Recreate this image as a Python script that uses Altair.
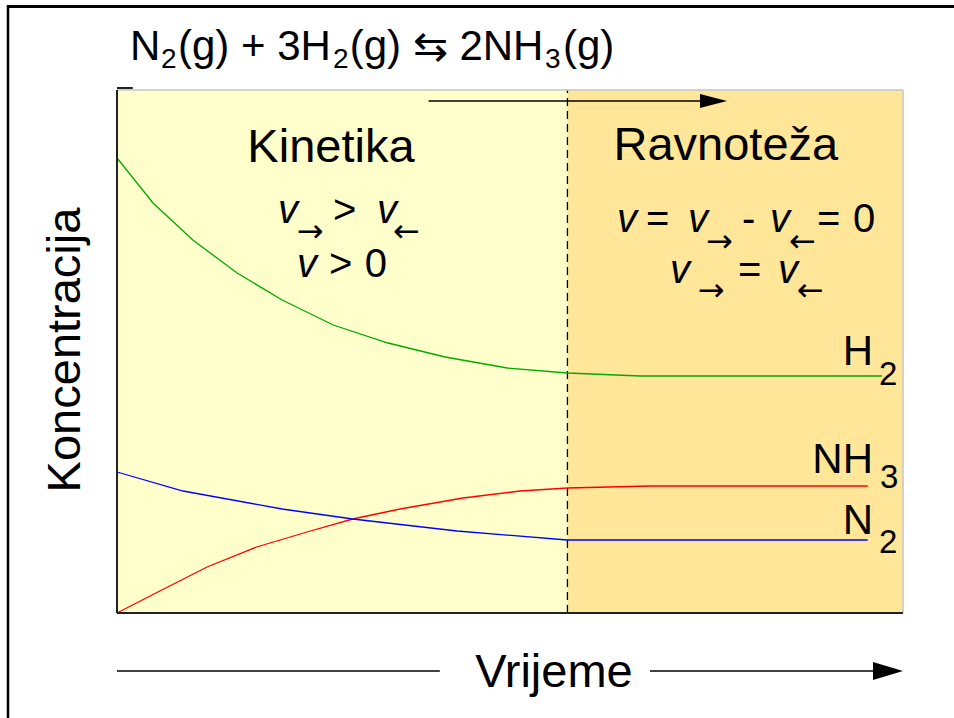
import altair as alt
import pandas as pd

# ---------------- data (time in arbitrary units, concentration in arbitrary units)
time_h2 = [0, 0.48, 1.01, 1.60, 2.20, 2.88, 3.61, 4.37, 5.20, 6.0, 6.97, 10.19]
conc_h2 = [4.55, 4.10, 3.73, 3.40, 3.13, 2.88, 2.70, 2.56, 2.45, 2.40, 2.37, 2.37]

time_nh3 = [0, 0.57, 1.20, 1.86, 2.53, 3.14, 3.77, 4.61, 5.37, 6.0, 7.1, 10.0]
conc_nh3 = [0, 0.22, 0.46, 0.66, 0.81, 0.94, 1.04, 1.15, 1.22, 1.25, 1.27, 1.27]

time_n2 = [0, 0.88, 2.20, 3.14, 4.53, 6.0, 10.0]
conc_n2 = [1.41, 1.22, 1.04, 0.94, 0.82, 0.73, 0.73]

equilibrium_time = 6.0
x_domain = [0, 10.47]
y_domain = [0, 5.23]

FONT = "Liberation Sans, Arial, Helvetica, sans-serif"
ARROW_FONT = "DejaVu Sans, Liberation Sans, sans-serif"
xs = alt.Scale(domain=x_domain, nice=False, zero=False)
ys = alt.Scale(domain=y_domain, nice=False, zero=False)


def X(f="x"):
    return alt.X(f"{f}:Q", scale=xs, axis=None)


def Y(f="y"):
    return alt.Y(f"{f}:Q", scale=ys, axis=None)


# ---------------- background regions
def region(x0, x1, fill):
    df = pd.DataFrame({"x": [x0], "x2": [x1], "y": [y_domain[0]], "y2": [y_domain[1]]})
    return alt.Chart(df).mark_rect(fill=fill, strokeWidth=0).encode(
        x=X(), x2="x2:Q", y=Y(), y2="y2:Q")


bg_kin = region(x_domain[0], equilibrium_time, "#FFFFCC")
bg_eq = region(equilibrium_time, x_domain[1], "#FFE699")

# ---------------- rules
def rule(rows, color="black", width=1.0, dash=None):
    df = pd.DataFrame(rows, columns=["x", "x2", "y", "y2"])
    kw = dict(color=color, strokeWidth=width)
    if dash:
        kw["strokeDash"] = dash
    return alt.Chart(df).mark_rule(**kw).encode(x=X(), x2="x2:Q", y=Y(), y2="y2:Q")


divider = rule([[equilibrium_time, equilibrium_time, y_domain[0], y_domain[1]]],
               width=1.3, dash=[8, 5])
frame_gray = rule([[x_domain[0], x_domain[1], y_domain[1], y_domain[1]],
                   [x_domain[1], x_domain[1], y_domain[0], y_domain[1]]],
                  color="#C4C4C4", width=1.5)
frame_dark = rule([[x_domain[0], x_domain[0], y_domain[0], y_domain[1]],
                   [x_domain[0], x_domain[1], y_domain[0], y_domain[0]],
                   [0, 0.21, 5.25, 5.25]],
                  color="#222222", width=2)
outer = rule([[-1.465, 11.3, 6.065, 6.065]], color="black", width=3)
outer_left = rule([[-1.452, -1.452, -1.2, 6.08]], color="black", width=2.5)

arrow_lines = rule([[4.15, 7.80, 5.12, 5.12],
                    [0.0, 4.30, -0.58, -0.58],
                    [7.10, 10.10, -0.58, -0.58]], color="black", width=1.5)

def head(x, y, size, path):
    df = pd.DataFrame({"x": [x], "y": [y]})
    return alt.Chart(df).mark_point(shape=path, filled=True, size=size, color="black",
                                    opacity=1, strokeWidth=0).encode(x=X(), y=Y())

head_top = head(7.946, 5.12, 729, "M-1,-0.52L1,0L-1,0.52Z")
head_bot = head(10.27, -0.58, 900, "M-1,-0.6L1,0L-1,0.6Z")

# ---------------- concentration lines
def series(t, c, color):
    df = pd.DataFrame({"x": t, "y": c})
    return alt.Chart(df).mark_line(color=color, strokeWidth=1.3).encode(
        x=X(), y=Y(), order="x:Q")

line_h2 = series(time_h2, conc_h2, "#00AA00")
line_nh3 = series(time_nh3, conc_nh3, "#FF0000")
line_n2 = series(time_n2, conc_n2, "#0000FF")

# ---------------- texts
def txt(rows, size, align="left", italic=False, angle=0, font=FONT):
    df = pd.DataFrame(rows, columns=["x", "y", "text"])
    kw = dict(font=font, fontSize=size, align=align, baseline="alphabetic",
              color="black", angle=angle)
    if italic:
        kw["fontStyle"] = "italic"
    return alt.Chart(df).mark_text(**kw).encode(x=X(), y=Y(), text="text:N")


# reaction equation
title_main = txt([[0.173, 5.53, "N"], [0.812, 5.53, "(g) + 3H"],
                  [3.10, 5.53, "(g) ⇆ 2NH"], [5.94, 5.53, "(g)"]], 42)
title_sub = txt([[0.586, 5.45, "2"], [2.876, 5.45, "2"], [5.70, 5.45, "3"]], 28)

# region headings
headings = txt([[2.85, 4.51, "Kinetika"], [8.11, 4.53, "Ravnoteža"]], 47, align="center")

# rate expressions (italic v)
v_it = txt([[2.145, 3.90, "v"], [3.463, 3.90, "v"], [2.398, 3.36, "v"],
            [6.66, 3.81, "v"], [7.606, 3.81, "v"], [8.699, 3.81, "v"],
            [7.366, 3.30, "v"], [8.805, 3.30, "v"]], 40, italic=True)
ops = txt([[2.877, 3.90, ">"], [2.824, 3.36, ">"], [3.30, 3.36, "0"],
           [7.047, 3.81, "="], [8.326, 3.81, "-"], [9.325, 3.81, "="], [9.804, 3.81, "0"],
           [8.272, 3.30, "="]], 40)
arrows_sub = txt([[2.395, 3.71, "→"], [3.675, 3.71, "←"],
                  [7.845, 3.61, "→"], [8.95, 3.61, "←"],
                  [7.735, 3.12, "→"], [9.055, 3.12, "←"]], 32, font=ARROW_FONT)

# species labels
sp_main = txt([[10.07, 2.48, "H"], [10.07, 1.40, "NH"], [10.07, 0.79, "N"]], 42, align="right")
sp_sub = txt([[10.15, 2.28, "2"], [10.165, 1.25, "3"], [10.15, 0.60, "2"]], 33)

# axis titles
ytitle = txt([[-0.493, 2.63, "Koncentracija"]], 47, align="center", angle=270)
xtitle = txt([[5.82, -0.74, "Vrijeme"]], 47, align="center")

chart = alt.layer(
    bg_kin, bg_eq, divider, line_h2, line_nh3, line_n2,
    frame_gray, frame_dark, outer, outer_left, arrow_lines, head_top, head_bot,
    title_main, title_sub, headings, v_it, ops, arrows_sub, sp_main, sp_sub,
    ytitle, xtitle,
).properties(
    width=786, height=523,
    padding={"left": 117, "top": 90, "right": 51, "bottom": 105},
    autosize="none", background="white",
).configure_view(stroke=None)

chart.save("out.html", embed_options={"renderer": "svg", "actions": False})
